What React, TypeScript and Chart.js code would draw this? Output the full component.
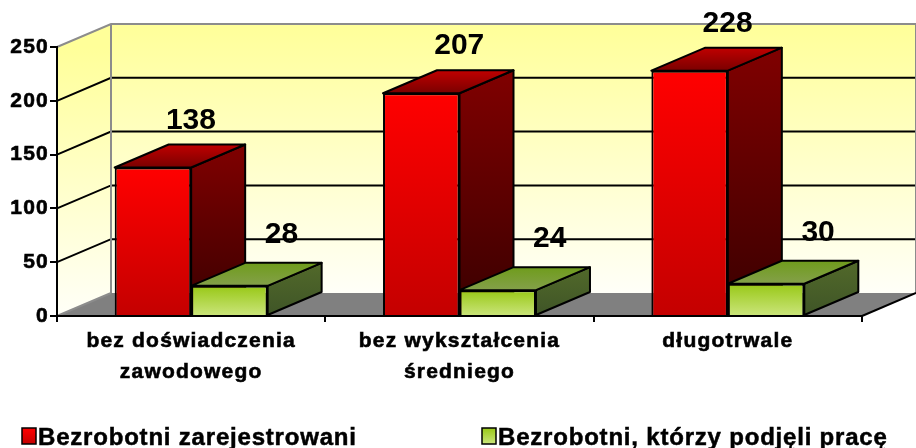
import React, { useEffect, useRef } from 'react';
import { Chart, registerables } from 'chart.js';

Chart.register(...registerables);

const categories: string[][] = [
  ['bez doświadczenia', 'zawodowego'],
  ['bez wykształcenia', 'średniego'],
  ['długotrwale'],
];
const registered: number[] = [138, 207, 228];
const employed: number[] = [28, 24, 30];
const seriesLabels: string[] = ['Bezrobotni zarejestrowani', 'Bezrobotni, którzy podjęli pracę'];
const yTicks: number[] = [0, 50, 100, 150, 200, 250];

const FONT = '"Liberation Sans", Arial, Helvetica, sans-serif';
const DX = 54;
const DY = -23;

const palette = [
  {
    front: ['#FF0000', '#C40000'],
    side: ['#800000', '#3A0000'],
    top: ['#C00000', '#7A0000'],
    labelDx: 38,
    labelDy: -39,
  },
  {
    front: ['#98C816', '#CBE57C'],
    side: ['#52692A', '#3F5527'],
    top: ['#6F9C1C', '#84A04A'],
    labelDx: 52,
    labelDy: -43,
  },
];

function vGrad(ctx: CanvasRenderingContext2D, y0: number, y1: number, c0: string, c1: string): any {
  if (!isFinite(y0) || !isFinite(y1)) return c0;
  const g = ctx.createLinearGradient(0, y0, 0, y1 === y0 ? y0 + 1 : y1);
  g.addColorStop(0, c0);
  g.addColorStop(1, c1);
  return g;
}

function poly(ctx: CanvasRenderingContext2D, pts: number[][]) {
  ctx.beginPath();
  ctx.moveTo(pts[0][0], pts[0][1]);
  for (let i = 1; i < pts.length; i++) ctx.lineTo(pts[i][0], pts[i][1]);
  ctx.closePath();
}

function drawFaces(chart: any, dsIndex: number) {
  const ctx: CanvasRenderingContext2D = chart.ctx;
  const meta = chart.getDatasetMeta(dsIndex);
  const pal = palette[dsIndex];
  ctx.save();
  ctx.lineWidth = 2;
  ctx.strokeStyle = '#000000';
  ctx.lineJoin = 'round';
  meta.data.forEach((el: any) => {
    const p = el.getProps(['x', 'y', 'base', 'width'], true);
    const l = p.x - p.width / 2;
    const r = p.x + p.width / 2;
    const t = p.y;
    const b = p.base;
    poly(ctx, [[r, t], [r + DX, t + DY], [r + DX, b + DY], [r, b]]);
    ctx.fillStyle = vGrad(ctx, t + DY, b, pal.side[0], pal.side[1]);
    ctx.fill();
    ctx.stroke();
    poly(ctx, [[l, t], [r, t], [r + DX, t + DY], [l + DX, t + DY]]);
    ctx.fillStyle = vGrad(ctx, t + DY, t, pal.top[0], pal.top[1]);
    ctx.fill();
    ctx.stroke();
  });
  ctx.restore();
}

const threeD = {
  id: 'threeD',
  beforeDraw(chart: any) {
    const { ctx, chartArea } = chart;
    const y = chart.scales.y;
    const L = chartArea.left, R = chartArea.right, T = chartArea.top, B = chartArea.bottom;
    ctx.save();
    ctx.letterSpacing = '0px';
    ctx.fillStyle = vGrad(ctx, T + DY, B + DY, '#FFFF99', '#FFFFF8');
    ctx.fillRect(L + DX, T + DY, R - L, B - T);
    poly(ctx, [[L, T], [L + DX, T + DY], [L + DX, B + DY], [L, B]]);
    ctx.fillStyle = vGrad(ctx, T, B, '#FFFF99', '#FFFFF8');
    ctx.fill();
    poly(ctx, [[L, B], [L + DX, B + DY], [R + DX, B + DY], [R, B]]);
    ctx.fillStyle = '#808080';
    ctx.fill();
    ctx.strokeStyle = '#000000';
    ctx.lineWidth = 2;
    yTicks.forEach((v) => {
      if (v === yTicks[0] || v === yTicks[yTicks.length - 1]) return;
      const py = y.getPixelForValue(v);
      ctx.beginPath();
      ctx.moveTo(L, py);
      ctx.lineTo(L + DX, py + DY);
      ctx.lineTo(R + DX, py + DY);
      ctx.stroke();
    });
    ctx.strokeStyle = '#8C8C8C';
    ctx.lineWidth = 2;
    ctx.beginPath();
    ctx.moveTo(L, T);
    ctx.lineTo(L + DX, T + DY);
    ctx.lineTo(R + DX, T + DY);
    ctx.lineTo(R + DX, B + DY);
    ctx.moveTo(L + DX, T + DY);
    ctx.lineTo(L + DX, B + DY);
    ctx.moveTo(L, B);
    ctx.lineTo(L + DX, B + DY);
    ctx.stroke();
    ctx.strokeStyle = '#000000';
    ctx.beginPath();
    ctx.moveTo(R, B);
    ctx.lineTo(R + DX, B + DY);
    ctx.stroke();
    ctx.restore();
    ctx.letterSpacing = '1.2px';
  },
  beforeDatasetsDraw(chart: any) {
    drawFaces(chart, 0);
  },
  afterDatasetsDraw(chart: any) {
    drawFaces(chart, 1);
    const ctx: CanvasRenderingContext2D = chart.ctx;
    ctx.save();
    ctx.letterSpacing = '0px';
    ctx.font = `bold 30px ${FONT}`;
    ctx.fillStyle = '#000000';
    ctx.textAlign = 'center';
    ctx.textBaseline = 'alphabetic';
    chart.data.datasets.forEach((ds: any, di: number) => {
      const meta = chart.getDatasetMeta(di);
      meta.data.forEach((el: any, i: number) => {
        const p = el.getProps(['x', 'y'], true);
        ctx.fillText(String(ds.data[i]), p.x + palette[di].labelDx, p.y + palette[di].labelDy);
      });
    });
    ctx.restore();
  },
  afterDraw(chart: any) {
    const ctx: CanvasRenderingContext2D = chart.ctx;
    ctx.save();
    ctx.letterSpacing = '0.8px';
    ctx.font = `bold 24px ${FONT}`;
    ctx.textBaseline = 'alphabetic';
    ctx.textAlign = 'left';
    const positions = [22, 482];
    chart.data.datasets.forEach((ds: any, di: number) => {
      const bx = positions[di];
      const by = 428;
      const bw = 14;
      const bh = 16;
      ctx.fillStyle = vGrad(ctx, by, by + bh, palette[di].front[0], palette[di].front[1]);
      ctx.fillRect(bx, by, bw, bh);
      ctx.lineWidth = 1.5;
      ctx.strokeStyle = '#000000';
      ctx.strokeRect(bx, by, bw, bh);
      ctx.fillStyle = '#000000';
      ctx.fillText(ds.label, bx + bw + 2, by + bh + 1);
      ctx.lineWidth = 0.5;
      ctx.strokeText(ds.label, bx + bw + 2, by + bh + 1);
    });
    ctx.restore();
    ctx.letterSpacing = '0px';
  },
};

function frontColor(di: number) {
  return (c: any) => {
    const chart = c.chart;
    const y = chart.scales?.y;
    if (!y || c.type !== 'data' || c.raw == null) return palette[di].front[0];
    const t = y.getPixelForValue(c.raw);
    const b = y.getPixelForValue(0);
    return vGrad(chart.ctx, t, b, palette[di].front[0], palette[di].front[1]);
  };
}

export default function App() {
  const ref = useRef<HTMLCanvasElement | null>(null);
  useEffect(() => {
    if (!ref.current) return;
    const chart = new Chart(ref.current, {
      type: 'bar',
      data: {
        labels: categories as any,
        datasets: [
          {
            label: seriesLabels[0],
            data: registered,
            backgroundColor: frontColor(0) as any,
            borderColor: '#000000',
            borderWidth: 2,
          },
          {
            label: seriesLabels[1],
            data: employed,
            backgroundColor: frontColor(1) as any,
            borderColor: '#000000',
            borderWidth: 2,
          },
        ],
      },
      options: {
        animation: false,
        responsive: true,
        maintainAspectRatio: false,
        events: [],
        layout: { padding: { top: 47, right: 54, left: 0, bottom: 0 } },
        datasets: { bar: { categoryPercentage: 0.57, barPercentage: 1 } },
        plugins: {
          legend: { display: false },
          tooltip: { enabled: false },
          title: { display: false },
        },
        scales: {
          x: {
            offset: true,
            grid: {
              display: true,
              offset: true,
              drawOnChartArea: false,
              drawTicks: true,
              tickLength: 6,
              color: '#000000',
              lineWidth: 2,
            },
            border: { display: true, color: '#000000', width: 2 },
            ticks: {
              color: '#000000',
              font: { family: FONT, size: 21, weight: 'bold', lineHeight: 1.5 },
              padding: 3,
              maxRotation: 0,
              autoSkip: false,
              textStrokeColor: '#000000',
              textStrokeWidth: 0.6,
            } as any,
            afterFit: (s: any) => {
              s.height = 132;
            },
          },
          y: {
            min: yTicks[0],
            max: yTicks[yTicks.length - 1],
            afterBuildTicks: (s: any) => {
              s.ticks = yTicks.map((v) => ({ value: v }));
            },
            grid: {
              display: true,
              drawOnChartArea: false,
              drawTicks: true,
              tickLength: 7,
              color: '#000000',
              lineWidth: 2,
            },
            border: { display: true, color: '#000000', width: 2 },
            ticks: {
              color: '#000000',
              font: { family: FONT, size: 21, weight: 'bold' },
              padding: 1,
              textStrokeColor: '#000000',
              textStrokeWidth: 0.6,
            } as any,
            afterFit: (s: any) => {
              s.width = 57;
            },
          },
        },
      },
      plugins: [threeD],
    });
    return () => chart.destroy();
  }, []);
  return (
    <div style={{ position: 'absolute', left: 0, top: 0, width: 916, height: 448, background: '#FFFFFF' }}>
      <canvas ref={ref} />
    </div>
  );
}
